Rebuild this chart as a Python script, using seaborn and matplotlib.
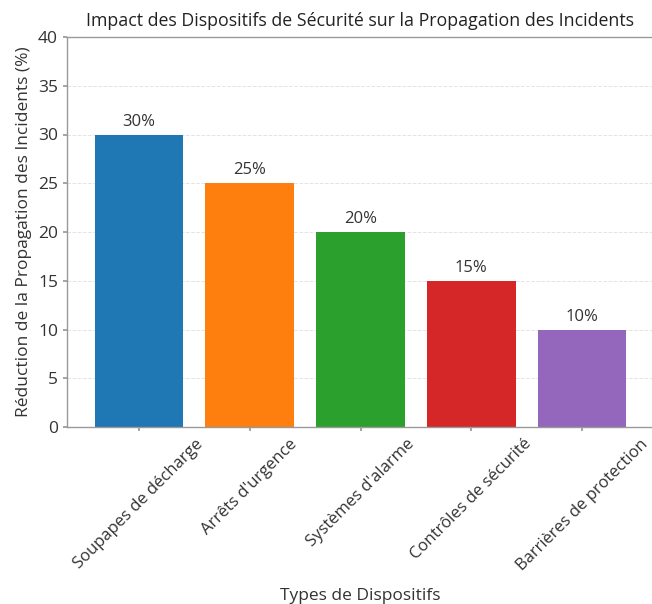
import matplotlib
matplotlib.use("Agg")
import matplotlib.pyplot as plt
import seaborn as sns
import pandas as pd

categories = ["Soupapes de décharge", "Arrêts d'urgence", "Systèmes d'alarme",
              "Contrôles de sécurité", "Barrières de protection"]
values = [30, 25, 20, 15, 10]
colors = ["#1f77b4", "#ff7f0e", "#2ca02c", "#d62728", "#9467bd"]

sns.set_theme(style="whitegrid")
plt.rcParams['font.family'] = ['Open Sans', 'DejaVu Sans']

df = pd.DataFrame({"cat": categories, "val": values})

fig = plt.figure(figsize=(6.52, 6.04), dpi=100)
ax = fig.add_axes([67/652, 1-427/604, 587/652, 390/604])
sns.barplot(data=df, x="cat", y="val", hue="cat", palette=colors, legend=False,
            width=0.8, ax=ax, saturation=1, linewidth=0)

ax.set_xlim(-0.65, 4.65)
ax.set_ylim(0, 40)
ax.set_yticks(range(0, 41, 5))
ax.grid(axis="y", linestyle="--", color="#dddddd", linewidth=0.7, alpha=0.8)
ax.grid(axis="x", visible=False)
ax.set_axisbelow(True)
for s in ax.spines.values():
    s.set_color("#999999")
    s.set_linewidth(1.0)

for i, v in enumerate(values):
    ax.text(i, v + 0.5, f"{v}%", ha="center", va="bottom", fontsize=12, color="#333333")

ax.set_title("Impact des Dispositifs de Sécurité sur la Propagation des Incidents",
             fontsize=12.8, color="#222222", pad=8)
ax.set_xlabel("Types de Dispositifs", fontsize=12.5, color="#333333", labelpad=10)
ax.set_ylabel("Réduction de la Propagation des Incidents (%)", fontsize=12.5, color="#333333")
ax.tick_params(axis="x", rotation=45, labelsize=12, colors="#333333", length=3)
ax.tick_params(axis="y", labelsize=12.5, colors="#333333", length=3)
ax.tick_params(axis="both", which="both", bottom=True, left=True, color="#999999")

fig.savefig("out.png", dpi=100)
